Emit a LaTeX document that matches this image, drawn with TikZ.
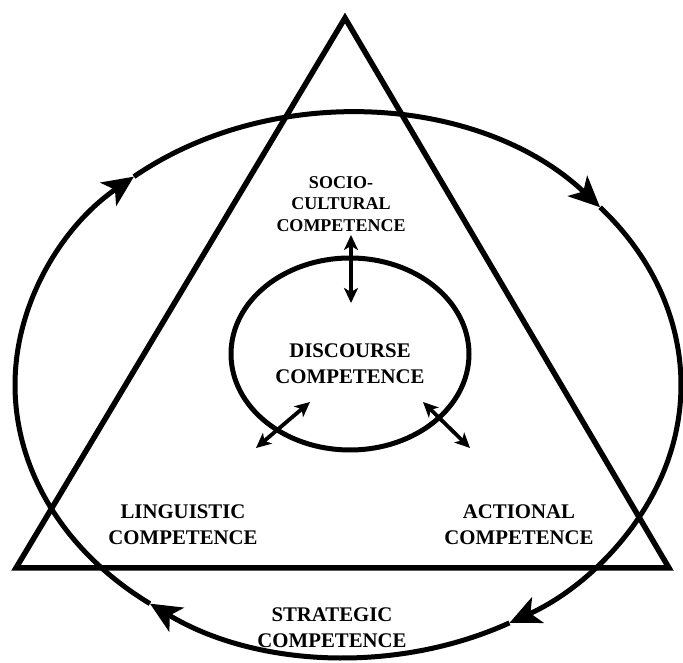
\documentclass[tikz,border=0pt]{standalone}
\usepackage{fontspec}
\setmainfont{Liberation Serif}
\usepackage{tikz}
\usetikzlibrary{arrows.meta}

\begin{document}
\begin{tikzpicture}[x=1pt,y=1pt,
    ring/.style={line width=5pt},
    flow/.style={line width=5pt,-{Stealth[length=31pt,width=28pt,inset=8pt]}},
    link/.style={line width=3.8pt,{Stealth[length=15pt,width=14pt,inset=4pt]}-{Stealth[length=15pt,width=14pt,inset=4pt]}},
    big/.style={font=\bfseries\fontsize{20.8}{26}\selectfont,align=center},
    small/.style={font=\bfseries\fontsize{18}{21.5}\selectfont,align=center}]
        \useasboundingbox (0, 0) rectangle (683, 663);
        \coordinate (outer) at (348, 278);
        \coordinate (inner) at (350, 309);
        % triangle
        \draw[line width=5.5pt, line join=miter](345, 645) -- (16, 95) -- (669, 95) -- cycle;
        % strategic ring, clockwise
        \foreach \a/\b in {130/40.8, 40.8/-61, -61/-126.5, -126.5/-230}
            \draw[flow] (outer) ++(\a:333 and 272) arc[start angle=\a, end angle=\b, x radius=333, y radius=272];
        % discourse
        \draw[ring] (inner) ellipse[x radius=119, y radius=96];
        \node[small] (socio) at (341, 459) {SOCIO-\\CULTURAL\\COMPETENCE};
        \node[big] (disc) at (350, 299) {DISCOURSE\\COMPETENCE};
        \node[big] (ling) at (183, 138) {LINGUISTIC\\COMPETENCE};
        \node[big] (act) at (519, 138) {ACTIONAL\\COMPETENCE};
        \node[big] (strat) at (332, 35) {STRATEGIC\\COMPETENCE};
        \coordinate (s1) at (351, 428);
        \coordinate (s2) at (351, 360);
        \coordinate (l1) at (310, 261);
        \coordinate (l2) at (256, 215);
        \coordinate (a1) at (423, 261);
        \coordinate (a2) at (470, 215);
        \draw[link] (s1) -- (s2);
        \draw[link] (l1) -- (l2);
        \draw[link] (a1) -- (a2);
    \end{tikzpicture}
\end{document}
